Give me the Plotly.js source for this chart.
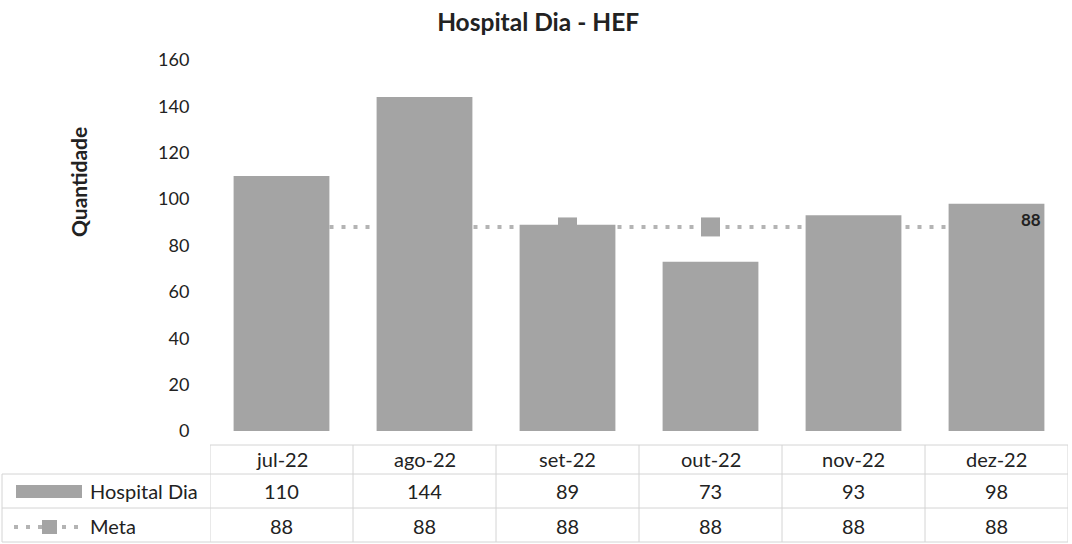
<!DOCTYPE html>
<html>
<head>
<meta charset="utf-8">
<script src="https://cdn.plot.ly/plotly-3.0.1.min.js"></script>
<style>html,body{margin:0;padding:0;background:#fff;}#chart{width:1072px;height:544px;}</style>
</head>
<body>
<div id="chart"></div>
<script>
const categories = ['jul-22', 'ago-22', 'set-22', 'out-22', 'nov-22', 'dez-22'];
const hospitalDia = [110, 144, 89, 73, 93, 98];
const meta = [88, 88, 88, 88, 88, 88];
const seriesNames = ['Hospital Dia', 'Meta'];
const yTicks = [0, 20, 40, 60, 80, 100, 120, 140, 160];
const yTitle = 'Quantidade';
const chartTitle = 'Hospital Dia - HEF';

const FONT = 'Lato, "Open Sans", sans-serif';
const TXT = '#222222';
const BAR = '#a4a4a4';
const GRID = '#d4d4d4';
const DOTS = '#b4b4b4';

// plot area in px: left 210, right 1068, top 60, bottom 431
const L = 210, W = 858, T = 60, H = 371;
const px2x = p => (p - L) / W;
const py2y = p => (T + H - p) / H;

const traces = [
  {
    type: 'scatter', mode: 'lines+markers', name: seriesNames[1],
    x: categories, y: meta, yaxis: 'y',
    line: {color: DOTS, width: 4, dash: '4px,8px'},
    marker: {symbol: 'square', size: 19, color: BAR},
    hoverinfo: 'skip', showlegend: false
  },
  {
    type: 'bar', name: seriesNames[0],
    x: categories, y: hospitalDia, yaxis: 'y2',
    marker: {color: BAR},
    hoverinfo: 'skip', showlegend: false
  }
];

const rowY = [445, 474, 508, 542];
const shapes = [];
shapes.push({type: 'line', xref: 'paper', yref: 'paper', x0: 0, x1: 1, y0: py2y(rowY[0]), y1: py2y(rowY[0]), line: {color: GRID, width: 1}});
for (let i = 1; i < rowY.length; i++) {
  shapes.push({type: 'line', xref: 'paper', yref: 'paper', x0: px2x(2), x1: 1, y0: py2y(rowY[i]), y1: py2y(rowY[i]), line: {color: GRID, width: 1}});
}
for (let k = 0; k <= categories.length; k++) {
  shapes.push({type: 'line', xref: 'x', yref: 'paper', x0: k - 0.5, x1: k - 0.5, y0: py2y(rowY[0]), y1: py2y(rowY[3]), line: {color: GRID, width: 1}});
}
shapes.push({type: 'line', xref: 'paper', yref: 'paper', x0: px2x(2), x1: px2x(2), y0: py2y(rowY[1]), y1: py2y(rowY[3]), line: {color: GRID, width: 1}});
// legend keys
shapes.push({type: 'rect', xref: 'paper', yref: 'paper', x0: px2x(16), x1: px2x(82), y0: py2y(498), y1: py2y(485), fillcolor: BAR, line: {width: 0}});
shapes.push({type: 'line', xref: 'paper', yref: 'paper', x0: px2x(14), x1: px2x(84), y0: py2y(527), y1: py2y(527), line: {color: DOTS, width: 4, dash: '4px,8px'}});
shapes.push({type: 'rect', xref: 'paper', yref: 'paper', x0: px2x(42), x1: px2x(57), y0: py2y(534), y1: py2y(520), fillcolor: BAR, line: {width: 0}});

const annotations = [];
const rowCenters = [459, 491, 526];
const cellFont = {family: FONT, size: 20, color: TXT};
categories.forEach((c, i) => {
  annotations.push({xref: 'x', yref: 'paper', x: c, y: py2y(rowCenters[0]), yanchor: 'middle', xanchor: 'center', text: c, showarrow: false, font: cellFont});
  annotations.push({xref: 'x', yref: 'paper', x: c, y: py2y(rowCenters[1]), yanchor: 'middle', xanchor: 'center', text: String(hospitalDia[i]), showarrow: false, font: cellFont});
  annotations.push({xref: 'x', yref: 'paper', x: c, y: py2y(rowCenters[2]), yanchor: 'middle', xanchor: 'center', text: String(meta[i]), showarrow: false, font: cellFont});
});
annotations.push({xref: 'paper', yref: 'paper', x: px2x(88), y: py2y(rowCenters[1]), xanchor: 'left', yanchor: 'middle', text: seriesNames[0], showarrow: false, font: cellFont});
annotations.push({xref: 'paper', yref: 'paper', x: px2x(88), y: py2y(rowCenters[2]), xanchor: 'left', yanchor: 'middle', text: seriesNames[1], showarrow: false, font: cellFont});
const last = categories.length - 1;
annotations.push({xref: 'x', yref: 'y', x: categories[last], y: meta[last], xanchor: 'center', yanchor: 'middle', xshift: 34, yshift: 7, text: '<b>' + meta[last] + '</b>', showarrow: false, font: {family: FONT, size: 17, color: TXT}});
// y axis title
annotations.push({xref: 'paper', yref: 'paper', x: px2x(78), y: py2y(182), xanchor: 'center', yanchor: 'middle', textangle: -90, text: '<b>' + yTitle + '</b>', showarrow: false, font: {family: FONT, size: 21, color: TXT}});

const layout = {
  width: 1072, height: 544,
  margin: {l: L, r: 1072 - L - W, t: T, b: 544 - T - H},
  paper_bgcolor: '#ffffff', plot_bgcolor: '#ffffff',
  title: {text: '<b>' + chartTitle + '</b>', x: 0.502, xanchor: 'center', y: 0.958, yanchor: 'middle', font: {family: FONT, size: 24.5, color: TXT}},
  bargap: 0.33,
  xaxis: {type: 'category', categoryorder: 'array', categoryarray: categories, range: [-0.5, categories.length - 0.5], showticklabels: false, showgrid: false, zeroline: false, showline: false, ticks: ''},
  yaxis: {range: [0, 160], tickvals: yTicks, ticktext: yTicks.map(String), showgrid: false, zeroline: false, showline: false, ticks: 'outside', ticklen: 16, tickcolor: 'rgba(0,0,0,0)', tickfont: {family: FONT, size: 18, color: TXT}},
  yaxis2: {range: [0, 160], overlaying: 'y', visible: false, showgrid: false, zeroline: false},
  shapes: shapes,
  annotations: annotations,
  showlegend: false
};

Plotly.newPlot('chart', traces, layout, {staticPlot: true, displayModeBar: false});
</script>
</body>
</html>
